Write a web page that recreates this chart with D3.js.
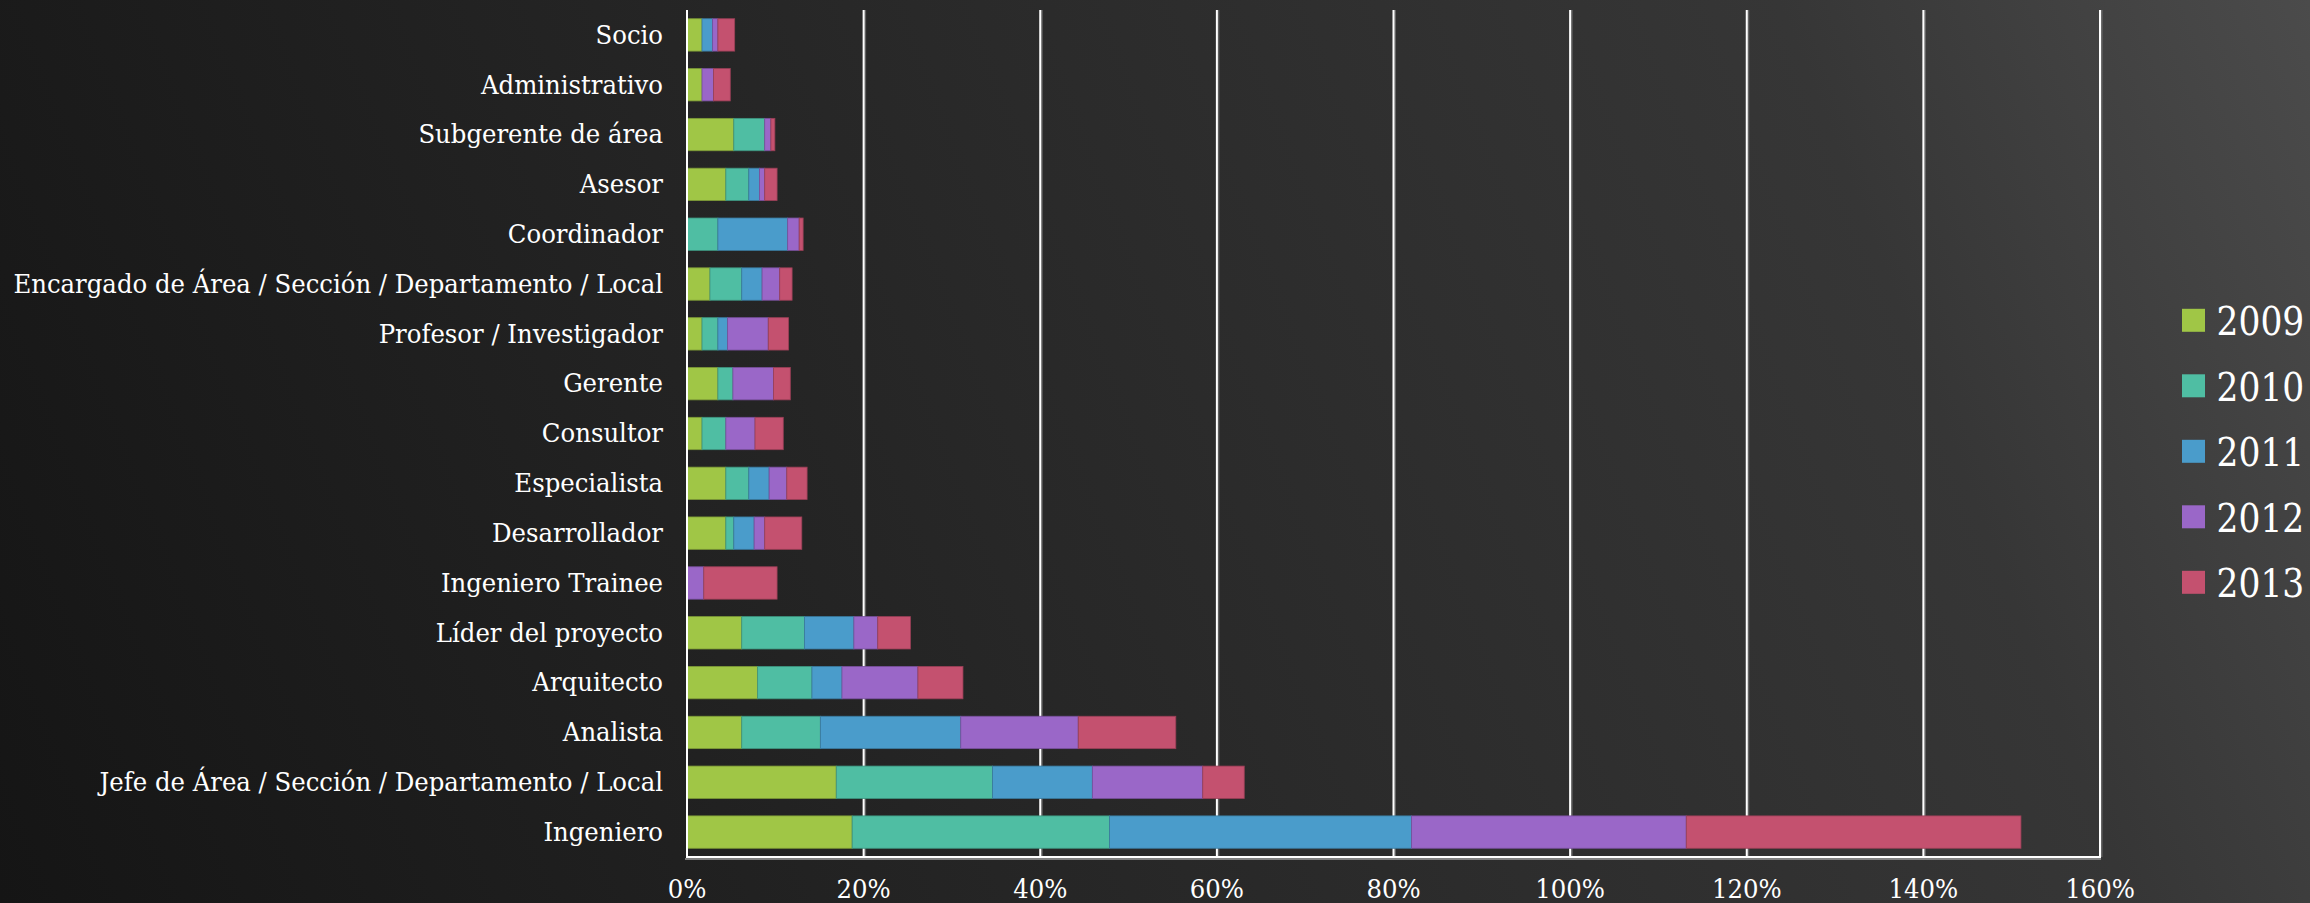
<!DOCTYPE html>
<html>
<head>
<meta charset="utf-8">
<script src="https://cdn.jsdelivr.net/npm/d3@7"></script>
<style>
  html, body { margin: 0; padding: 0; background: #1c1c1c; overflow: hidden; }
  #chart-container svg { display: block; }
</style>
</head>
<body>
<div id="chart-container"></div>
<script>
// categorías (de arriba hacia abajo)
var categories = [
  "Socio", "Administrativo", "Subgerente de área", "Asesor", "Coordinador",
  "Encargado de Área / Sección / Departamento / Local", "Profesor / Investigador",
  "Gerente", "Consultor", "Especialista", "Desarrollador", "Ingeniero Trainee",
  "Líder del proyecto", "Arquitecto", "Analista",
  "Jefe de Área / Sección / Departamento / Local", "Ingeniero"
];

// series por año (en %)
var years = ["2009", "2010", "2011", "2012", "2013"];
var v2009 = [1.7, 1.7, 5.3, 4.4, 0, 2.6, 1.7, 3.5, 1.7, 4.4, 4.4, 0, 6.2, 8.0, 6.2, 16.9, 18.7];
var v2010 = [0, 0, 3.5, 2.6, 3.5, 3.6, 1.8, 1.7, 2.7, 2.6, 0.9, 0, 7.1, 6.15, 8.9, 17.7, 29.15];
var v2011 = [1.2, 0, 0, 1.2, 7.9, 2.3, 1.1, 0, 0, 2.3, 2.3, 0, 5.6, 3.4, 15.9, 11.3, 34.2];
var v2012 = [0.6, 1.3, 0.7, 0.6, 1.3, 2.0, 4.6, 4.6, 3.3, 2.0, 1.2, 1.9, 2.7, 8.6, 13.3, 12.5, 31.1];
var v2013 = [1.9, 1.9, 0.45, 1.4, 0.45, 1.4, 2.3, 1.9, 3.2, 2.3, 4.2, 8.3, 3.7, 5.1, 11.05, 4.7, 37.9];
var xTicks = [0, 20, 40, 60, 80, 100, 120, 140, 160];

var colors = ["#a0c646", "#4fbea3", "#4a9ccb", "#9a67c8", "#c4516f"];

var width = 2310;
var height = 903;

var svg = d3.select("#chart-container").append("svg")
  .attr("width", width)
  .attr("height", height);

// fondo degradado
var defs = svg.append("defs");
var grad = defs.append("linearGradient")
  .attr("id", "bg")
  .attr("gradientUnits", "userSpaceOnUse")
  .attr("x1", 0).attr("y1", height)
  .attr("x2", width).attr("y2", 0);
grad.append("stop").attr("offset", "0").attr("stop-color", "#151515");
grad.append("stop").attr("offset", "0.45").attr("stop-color", "#282828");
grad.append("stop").attr("offset", "0.8").attr("stop-color", "#363636");
grad.append("stop").attr("offset", "1").attr("stop-color", "#4b4b4b");

svg.append("rect")
  .attr("width", width)
  .attr("height", height)
  .attr("fill", "url(#bg)");

// escalas
var x = d3.scaleLinear().domain([0, 160]).range([687, 2100]);
var y = d3.scaleBand().domain(categories).range([10, 857])
  .paddingInner(0.35).paddingOuter(0.175);

// datos apilados
var rows = categories.map(function (c, i) {
  return { cat: c, "2009": v2009[i], "2010": v2010[i], "2011": v2011[i], "2012": v2012[i], "2013": v2013[i] };
});
var stacked = d3.stack().keys(years)(rows);

// líneas de cuadrícula
var grid = svg.append("g");
grid.selectAll("line.shadow")
  .data(xTicks.slice(1))
  .enter().append("line")
  .attr("class", "shadow")
  .attr("x1", d => x(d) + 1).attr("x2", d => x(d) + 1)
  .attr("y1", 10).attr("y2", 857)
  .style("stroke", "rgba(160,160,160,0.45)")
  .style("stroke-width", 3);
grid.selectAll("line.major")
  .data(xTicks.slice(1))
  .enter().append("line")
  .attr("class", "major")
  .attr("x1", d => x(d)).attr("x2", d => x(d))
  .attr("y1", 10).attr("y2", 857)
  .style("stroke", "#ffffff")
  .style("stroke-width", 2);

// barras
var layer = svg.append("g").selectAll("g")
  .data(stacked)
  .enter().append("g")
  .attr("fill", (d, i) => colors[i]);

layer.selectAll("rect")
  .data(d => d.filter(p => p[1] - p[0] > 0))
  .enter().append("rect")
  .attr("x", d => x(d[0]))
  .attr("y", d => y(d.data.cat))
  .attr("width", d => x(d[1]) - x(d[0]))
  .attr("height", y.bandwidth())
  .style("stroke", function () { return d3.color(d3.select(this.parentNode).attr("fill")).darker(0.7); })
  .style("stroke-width", 0.8);

// ejes
svg.append("line")
  .attr("x1", x(0) - 2).attr("x2", x(160) + 1)
  .attr("y1", 859).attr("y2", 859)
  .style("stroke", "rgba(150,150,150,0.8)")
  .style("stroke-width", 2);
svg.append("line")
  .attr("x1", x(0) - 1).attr("x2", x(160) + 1)
  .attr("y1", 857).attr("y2", 857)
  .style("stroke", "#ffffff")
  .style("stroke-width", 2);
svg.append("line")
  .attr("x1", x(0)).attr("x2", x(0))
  .attr("y1", 10).attr("y2", 858)
  .style("stroke", "#ffffff")
  .style("stroke-width", 2);

var labelFont = "'DejaVu Serif Condensed', 'DejaVu Serif', serif";

// etiquetas de categoría
var labels = svg.append("g").selectAll("text")
  .data(categories)
  .enter().append("text")
  .text(d => d)
  .attr("text-anchor", "end")
  .style("font-family", labelFont)
  .style("font-stretch", "condensed")
  .style("font-size", "25.5px")
  .style("fill", "#ffffff");

// ajustar ancho: la etiqueta más larga mide ~650px en la referencia
var longest = labels.filter(d => d.indexOf("Encargado") === 0).node().getComputedTextLength();
var sx = 650 / longest;

labels.attr("transform", d => "translate(663," + (y(d) + y.bandwidth() / 2 + 8.8) + ") scale(" + sx + ",1)");

// etiquetas del eje x
svg.append("g").selectAll("text")
  .data(xTicks)
  .enter().append("text")
  .text(d => d + "%")
  .attr("text-anchor", "middle")
  .attr("transform", d => "translate(" + x(d) + ",898) scale(" + sx + ",1)")
  .style("font-family", labelFont)
  .style("font-stretch", "condensed")
  .style("font-size", "25.5px")
  .style("fill", "#ffffff");

// leyenda
var legend = svg.append("g").selectAll("g")
  .data(years)
  .enter().append("g")
  .attr("transform", (d, i) => "translate(2182," + (320.3 + i * 65.5) + ")");

legend.append("rect")
  .attr("x", 0).attr("y", -11.5)
  .attr("width", 23).attr("height", 23)
  .attr("fill", (d, i) => colors[i]);

legend.append("text")
  .text(d => d)
  .attr("transform", "translate(34.5,15) scale(1,1.13)")
  .style("font-family", "'DejaVu Serif', serif")
  .style("font-size", "34.5px")
  .style("fill", "#ffffff");
</script>
</body>
</html>
